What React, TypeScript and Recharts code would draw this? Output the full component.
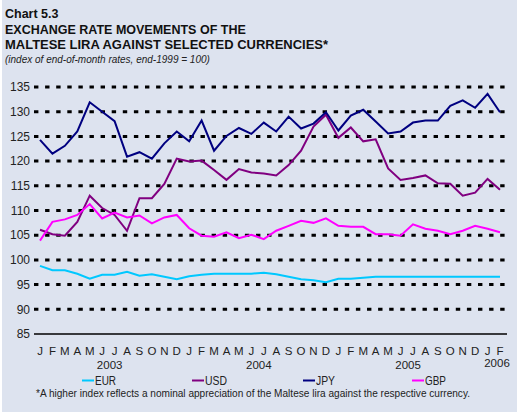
import { LineChart, Line, XAxis, YAxis, ReferenceLine } from "recharts";

// end-of-month periods, Jan 2003 .. Feb 2006
const periods = [
  "Jan 2003", "Feb 2003", "Mar 2003", "Apr 2003", "May 2003", "Jun 2003",
  "Jul 2003", "Aug 2003", "Sep 2003", "Oct 2003", "Nov 2003", "Dec 2003",
  "Jan 2004", "Feb 2004", "Mar 2004", "Apr 2004", "May 2004", "Jun 2004",
  "Jul 2004", "Aug 2004", "Sep 2004", "Oct 2004", "Nov 2004", "Dec 2004",
  "Jan 2005", "Feb 2005", "Mar 2005", "Apr 2005", "May 2005", "Jun 2005",
  "Jul 2005", "Aug 2005", "Sep 2005", "Oct 2005", "Nov 2005", "Dec 2005",
  "Jan 2006", "Feb 2006",
];

const eur = [
  98.8, 97.9, 97.9, 97.2, 96.2, 97.0, 97.0, 97.6, 96.8, 97.1, 96.6, 96.1,
  96.7, 97.0, 97.2, 97.2, 97.2, 97.2, 97.4, 97.1, 96.6, 96.1, 95.9, 95.5,
  96.2, 96.2, 96.4, 96.6, 96.6, 96.6, 96.6, 96.6, 96.6, 96.6, 96.6, 96.6,
  96.6, 96.6,
];
const usd = [
  106.1, 105.2, 104.9, 107.7, 113.0, 110.5, 109.1, 105.9, 112.5, 112.5, 115.4, 120.5,
  119.9, 120.1, 118.2, 116.2, 118.4, 117.7, 117.5, 117.1, 119.2, 122.1, 127.0, 129.4,
  124.7, 126.8, 124.0, 124.4, 118.5, 116.2, 116.6, 117.1, 115.5, 115.4, 113.0, 113.6,
  116.4, 114.2,
];
const jpy = [
  124.3, 121.5, 123.1, 126.0, 131.9, 130.0, 128.1, 120.9, 121.8, 120.5, 123.6, 126.0,
  124.0, 128.2, 122.1, 125.1, 126.7, 125.5, 127.8, 126.0, 129.0, 126.6, 127.6, 129.9,
  126.2, 129.2, 130.4, 128.0, 125.6, 126.0, 127.8, 128.2, 128.2, 131.2, 132.3, 130.8,
  133.6, 129.9,
];
const gbp = [
  103.9, 107.7, 108.2, 109.1, 111.3, 108.4, 109.6, 108.6, 109.0, 107.4, 108.6, 109.1,
  106.4, 104.9, 104.7, 105.6, 104.4, 105.1, 104.2, 105.9, 106.9, 107.9, 107.5, 108.4,
  106.9, 106.7, 106.7, 105.2, 105.2, 104.9, 107.2, 106.3, 105.9, 105.2, 105.9, 106.9,
  106.3, 105.6,
];

const yTicks = [85, 90, 95, 100, 105, 110, 115, 120, 125, 130, 135];

const series = [
  { key: "EUR", color: "#00c8ff", values: eur },
  { key: "USD", color: "#800080", values: usd },
  { key: "JPY", color: "#000080", values: jpy },
  { key: "GBP", color: "#ff00ff", values: gbp },
];

const data = periods.map((p, i) => ({
  period: p,
  EUR: eur[i],
  USD: usd[i],
  JPY: jpy[i],
  GBP: gbp[i],
}));

const BG = "#dde3ef";
const SANS = "'Liberation Sans', Arial, Helvetica, sans-serif";

function MonthTick({ x, y, payload, index }: any) {
  const [mon, year] = String(payload.value).split(" ");
  let yearLabel = null;
  if (mon === "Jun") {
    yearLabel = (
      <text x={x + 7.5} y={y + 35} textAnchor="middle" fontSize={11.5} fill="#222" fontFamily={SANS}>
        {year}
      </text>
    );
  } else if (index === periods.length - 1) {
    yearLabel = (
      <text x={x - 3} y={y + 33} textAnchor="middle" fontSize={11.5} fill="#222" fontFamily={SANS}>
        {year}
      </text>
    );
  }
  return (
    <g>
      <text x={x} y={y + 21} textAnchor="middle" fontSize={11.5} fill="#222" fontFamily={SANS}>
        {mon[0]}
      </text>
      {yearLabel}
    </g>
  );
}

// legend swatch positions and the (condensed) label widths of the original
const legendX = [82, 192, 303, 412];
const legendW = [21, 22, 19, 21];

export default function App() {
  return (
    <div
      style={{
        position: "absolute",
        left: 0,
        top: 0,
        width: 517,
        height: 412,
        background: BG,
        borderLeft: "2px solid #fff",
        boxSizing: "border-box",
      }}
    >
      <div style={{ position: "absolute", left: -2, top: 0 }}>
        <LineChart
          width={517}
          height={412}
          data={data}
          margin={{ top: 87, right: 10, bottom: 38, left: 0 }}
        >
          {yTicks
            .filter((v) => v > 85)
            .map((v) => (
              <ReferenceLine
                key={v}
                y={v}
                stroke="#000"
                strokeWidth={3}
                strokeDasharray="4.4 6.7"
              />
            ))}
          <XAxis
            dataKey="period"
            interval={0}
            height={40}
            tickLine={false}
            tickSize={0}
            tickMargin={0}
            axisLine={{ stroke: "#000", strokeWidth: 1.3 }}
            padding={{ left: 6, right: 7 }}
            tick={<MonthTick />}
          />
          <YAxis
            domain={[85, 135]}
            ticks={yTicks}
            width={34}
            axisLine={false}
            tickLine={false}
            tickSize={2}
            tickMargin={2}
            tick={{ fill: "#222", fontSize: 12, fontFamily: SANS }}
          />
          {series.map((s) => (
            <Line
              key={s.key}
              dataKey={s.key}
              stroke={s.color}
              strokeWidth={2}
              dot={false}
              activeDot={false}
              isAnimationActive={false}
            />
          ))}
        </LineChart>
      </div>
      <svg
        width={517}
        height={412}
        style={{ position: "absolute", left: -2, top: 0, pointerEvents: "none" }}
      >
        <g fontFamily={SANS} fill="#111" fontWeight="bold" fontSize={12.5}>
          <text x={5} y={18}>Chart 5.3</text>
          <text x={5} y={34}>EXCHANGE RATE MOVEMENTS OF THE</text>
          <text x={5} y={49} textLength={323} lengthAdjust="spacingAndGlyphs">
            MALTESE LIRA AGAINST SELECTED CURRENCIES*
          </text>
        </g>
        <text x={5} y={63} fontFamily={SANS} fontStyle="italic" fontSize={10} fill="#222">
          (index of end-of-month rates, end-1999 = 100)
        </text>
        {series.map((s, i) => (
          <g key={s.key}>
            <line x1={legendX[i]} x2={legendX[i] + 12} y1={380.5} y2={380.5} stroke={s.color} strokeWidth={2} />
            <text
              x={legendX[i] + 13}
              y={384.5}
              fontFamily={SANS}
              fontSize={12}
              fill="#222"
              textLength={legendW[i]}
              lengthAdjust="spacingAndGlyphs"
            >
              {s.key}
            </text>
          </g>
        ))}
        <text
          x={36}
          y={397}
          fontFamily={SANS}
          fontSize={11}
          fill="#222"
          textLength={434}
          lengthAdjust="spacingAndGlyphs"
        >
          *A higher index reflects a nominal appreciation of the Maltese lira against the respective currency.
        </text>
      </svg>
    </div>
  );
}
